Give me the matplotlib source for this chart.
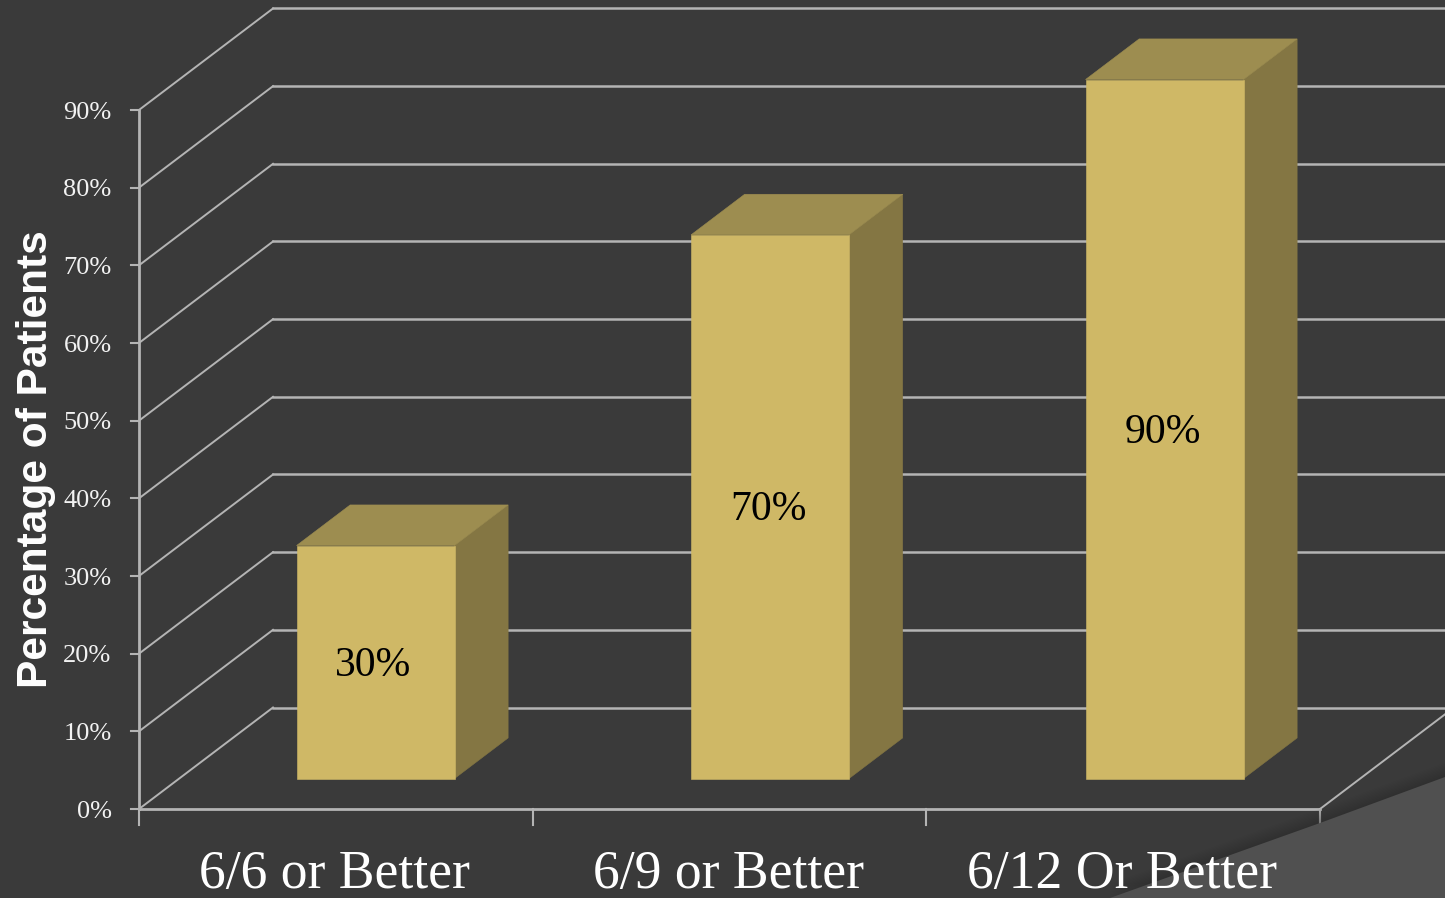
import numpy as np
import matplotlib
matplotlib.use('Agg')
import matplotlib.pyplot as plt
from matplotlib.patches import Polygon

categories = ['6/6 or Better', '6/9 or Better', '6/12 Or Better']
percent_patients = [30, 70, 90]
y_ticks = [0, 10, 20, 30, 40, 50, 60, 70, 80, 90]

BG = '#3a3a3a'
LINE = '#b4b4b4'
FRONT = '#cfb866'
SIDE = '#847643'
TOP = '#9d8d50'

W, H = 1445, 898
PX_X = 393.67   # pixels per category
PX_Y = 7.767    # pixels per percent
X0, Y0 = 139, 809

# depth of the 3d box, in data units
DX = 134 / PX_X
DY = 101.5 / PX_Y
BAR_W = 158 / PX_X
BAR_STEP = 394.5 / PX_X
BAR_START = 0.5 - 0.5 / PX_X
BAR_NEAR = 0.30
BAR_FAR = 0.70


def project(x, y, depth=0.0):
    return x + DX * depth, y + DY * depth


fig = plt.figure(figsize=(W / 100, H / 100), dpi=100, facecolor=BG)
ax = fig.add_axes([0, 0, 1, 1])
ax.set_xlim(-X0 / PX_X, (W - X0) / PX_X)
ax.set_ylim((Y0 - H) / PX_Y, Y0 / PX_Y)
ax.axis('off')

n = len(categories)

# walls and floor
for v in y_ticks:
    xs, ys = zip(project(0, v), project(0, v, 1))
    ax.plot(xs, ys, color=LINE, lw=1.4, zorder=1)
    xs, ys = zip(project(0, v, 1), project(n + 0.2, v, 1))
    ax.plot(xs, ys, color=LINE, lw=1.8, zorder=1)
    ax.plot([-8 / PX_X, 0], [v, v], color=LINE, lw=1.5, zorder=1)
    ax.text(-27.5 / PX_X, v - 0.35, '%d%%' % v, color='#f2f2f2', fontsize=19,
            family='Liberation Serif', ha='right', va='center', zorder=5)

ax.plot([0, 0], [0, 90], color=LINE, lw=2, zorder=2)
xs, ys = zip(project(0, 0), project(n, 0))
ax.plot(xs, ys, color=LINE, lw=2, zorder=2)
xs, ys = zip(project(n, 0), project(n, 0, 1))
ax.plot(xs, ys, color=LINE, lw=1.4, zorder=2)
for i in range(n + 1):
    ax.plot([i, i], [0, -16 / PX_Y], color=LINE, lw=1.5, zorder=2)

# folded page corner with a soft edge
corner = [(1110, 898), (1320, 823), (1445, 777), (1445, 898)]
for off in np.linspace(14, 1, 10):
    shadow_pts = [(px / W, 1 - (py - off) / H) for px, py in corner]
    ax.add_patch(Polygon(shadow_pts, closed=True, transform=fig.transFigure,
                         facecolor='#2c2c2c', edgecolor='none', alpha=0.05, zorder=3))
corner_pts = [(px / W, 1 - py / H) for px, py in corner]
ax.add_patch(Polygon(corner_pts, closed=True, transform=fig.transFigure,
                     facecolor='#505050', edgecolor='none', zorder=3))

# bars
for i, val in enumerate(percent_patients):
    mid = BAR_START + i * BAR_STEP
    left = mid - BAR_W / 2
    right = mid + BAR_W / 2
    front = [project(left, 0, BAR_NEAR), project(right, 0, BAR_NEAR),
             project(right, val, BAR_NEAR), project(left, val, BAR_NEAR)]
    side = [project(right, 0, BAR_NEAR), project(right, 0, BAR_FAR),
            project(right, val, BAR_FAR), project(right, val, BAR_NEAR)]
    top = [project(left, val, BAR_NEAR), project(right, val, BAR_NEAR),
           project(right, val, BAR_FAR), project(left, val, BAR_FAR)]
    ax.add_patch(Polygon(side, closed=True, facecolor=SIDE, edgecolor=SIDE, lw=0.4, zorder=4))
    ax.add_patch(Polygon(top, closed=True, facecolor=TOP, edgecolor=TOP, lw=0.4, zorder=4))
    ax.add_patch(Polygon(front, closed=True, facecolor=FRONT, edgecolor=FRONT, lw=0.4, zorder=4))
    cx, cy = project(mid, val / 2, BAR_NEAR)
    ax.text(cx - 2 / PX_X, cy - 0.45, '%d%%' % val, color='black', fontsize=30,
            family='Liberation Serif', ha='center', va='center', zorder=5)

for i, name in enumerate(categories):
    ax.text(i + 0.5 - 1 / PX_X, -66 / PX_Y, name, color='white', fontsize=38.6,
            family='Liberation Serif', ha='center', va='center', zorder=6)

ax.text(-103.5 / PX_X, 45.0, 'Percentage of Patients', color='white', fontsize=30.6,
        family='Liberation Sans', fontweight='bold', rotation=90,
        ha='center', va='center', zorder=5)

fig.savefig('out.png', dpi=100, facecolor=BG)
